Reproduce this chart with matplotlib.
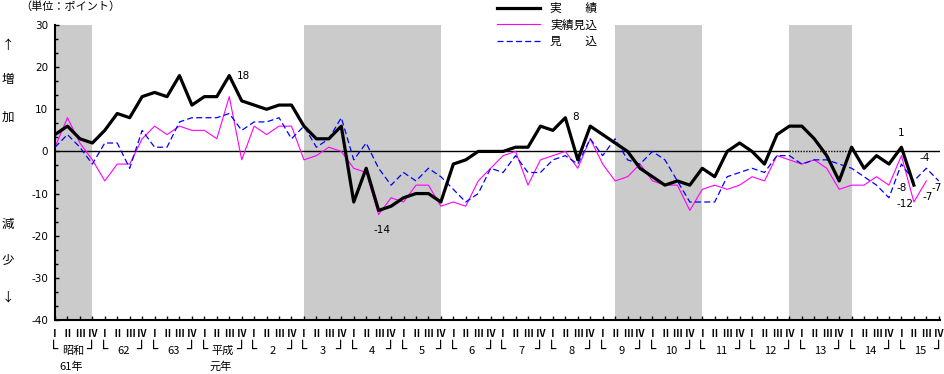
import matplotlib.pyplot as plt
import matplotlib.transforms as mtransforms
from matplotlib.lines import Line2D
import numpy as np

plt.rcParams['font.family'] = ['Noto Sans CJK JP', 'DejaVu Sans']
plt.rcParams['axes.unicode_minus'] = False

# quarterly BSI, 昭和61年Ⅰ期 - 平成15年Ⅳ期
jisseki = [4, 6, 3, 2, 5, 9, 8, 13, 14, 13, 18, 11, 13, 13, 18, 12, 11, 10, 11, 11,
           6, 3, 3, 6, -12, -4, -14, -13, -11, -10, -10, -12, -3, -2, 0, 0, 0, 1, 1, 6,
           5, 8, -2, 6, 4, 2, 0, -4, -6, -8, -7, -8, -4, -6, 0, 2, 0, -3, 4, 6,
           6, 3, -1, -7, 1, -4, -1, -3, 1, -8]
jisseki_mikomi = [1, 8, 2, -2, -7, -3, -3, 3, 6, 4, 6, 5, 5, 3, 13, -2, 6, 4, 6, 6,
                  -2, -1, 1, 0, -4, -5, -15, -11, -12, -8, -8, -13, -12, -13, -7, -4, -1, 0, -8, -2,
                  -1, 0, -4, 3, -3, -7, -6, -3, -7, -8, -8, -14, -9, -8, -9, -8, -6, -7, -1, -2,
                  -3, -2, -4, -9, -8, -8, -6, -8, -1, -12, -7]
mikomi = [1, 4, 1, -3, 2, 2, -4, 5, 1, 1, 7, 8, 8, 8, 9, 5, 7, 7, 8, 3,
          6, 1, 3, 8, -2, 2, -4, -8, -5, -7, -4, -6, -9, -12, -10, -4, -5, -1, -5, -5,
          -2, -1, -3, 3, -1, 3, -2, -3, 0, -2, -7, -12, -12, -12, -6, -5, -4, -5, -1, -1,
          -3, -2, -2, -3, -4, -6, -8, -11, -3, -7, -4, -7]

years = ['昭和', '62', '63', '平成', '2', '3', '4', '5', '6', '7', '8', '9',
         '10', '11', '12', '13', '14', '15']
year_sub = {'昭和': '61年', '平成': '元年'}
quarters = ['Ⅰ', 'Ⅱ', 'Ⅲ', 'Ⅳ']
# recession periods (first quarter, last quarter)
recessions = [(0, 3), (20, 31), (45, 52), (59, 64)]

W, H = 945, 374
fig = plt.figure(figsize=(W / 100, H / 100), dpi=100)
ax = fig.add_axes([55 / W, 1 - 320 / H, (940 - 55) / W, (320 - 25) / H])

for a, b in recessions:
    ax.axvspan(a, b, color='#cbcbcb', lw=0, zorder=0)

# zero line (dotted inside the last shaded band)
ax.hlines(0, 0, recessions[3][0], color='black', lw=1, zorder=1)
ax.hlines(0, recessions[3][0], recessions[3][1], color='black', lw=1, linestyles=(0, (1, 1)), zorder=1)
ax.hlines(0, recessions[3][1], 71.1, color='black', lw=1, zorder=1)

ax.plot(np.arange(len(jisseki_mikomi)), jisseki_mikomi, color='#ff00ff', lw=0.8, zorder=2)
ax.plot(np.arange(len(mikomi)), mikomi, color='#0000ff', lw=0.9, dashes=(4.8, 2.6), zorder=3)
ax.plot(np.arange(len(jisseki)), jisseki, color='black', lw=2.3, zorder=4)

ax.set_xlim(0, 71.1)
ax.set_ylim(-40, 30)
ax.set_yticks(range(-40, 31, 10))
ax.set_yticks(np.arange(-40, 30.1, 10 / 3), minor=True)
ax.set_yticklabels([str(v) for v in range(-40, 31, 10)], family='DejaVu Sans')
ax.set_xticks(np.arange(72))
ax.tick_params(axis='y', which='major', direction='in', length=3, width=1, labelsize=7.5, pad=5)
ax.tick_params(axis='y', which='minor', direction='in', length=2, width=1)
ax.tick_params(axis='x', direction='in', length=3, width=1, labelbottom=False)
for s in ['top', 'right']:
    ax.spines[s].set_visible(False)
for s in ['left', 'bottom']:
    ax.spines[s].set_linewidth(1.5)

# value labels
def note(series, i, dx, dy):
    ax.annotate(str(series[i]), (i, series[i]), xytext=(dx, dy), textcoords='offset pixels',
                ha='center', va='center', fontsize=7.5, family='DejaVu Sans', zorder=5)

note(jisseki, 14, 14, 0)
note(jisseki, 26, 3, -20)
note(jisseki, 41, 10, 1)
note(jisseki, 68, 0, 14)
note(jisseki, 69, -12, -3)
note(jisseki_mikomi, 69, -9, -2)
note(jisseki_mikomi, 70, 1, -16)
note(mikomi, 70, -2, 10)
note(mikomi, 71, -2, -7)

# category axis
tr = mtransforms.blended_transform_factory(ax.transData, fig.transFigure)
for i in range(72):
    ax.text(i, 1 - 334 / H, quarters[i % 4], transform=tr, ha='center', va='center',
            fontsize=7, fontweight='bold', clip_on=False)
for k, y in enumerate(years):
    s = 4 * k
    ax.text(s - 0.1, 1 - 349 / H, '└', transform=tr, ha='center', va='center',
            fontsize=11, family='DejaVu Sans')
    ax.text(s + 2.9, 1 - 349 / H, '┘', transform=tr, ha='center', va='center',
            fontsize=11, family='DejaVu Sans')
    ax.text(s + 1.5, 1 - 351 / H, y, transform=tr, ha='center', va='center', fontsize=8)
    if y in year_sub:
        ax.text(s + 1.3, 1 - 367 / H, year_sub[y], transform=tr, ha='center', va='center', fontsize=8)

fig.text(20 / W, 1 - 7 / H, '（単位：ポイント）', fontsize=8, va='center')
for ch, yy in [('↑', 45), ('増', 80), ('加', 117), ('減', 224), ('少', 260), ('↓', 297)]:
    fig.text(8 / W, 1 - yy / H, ch, fontsize=9, ha='center', va='center')

handles = [Line2D([], [], color='black', lw=2.3),
           Line2D([], [], color='#ff00ff', lw=0.8),
           Line2D([], [], color='#0000ff', lw=0.9, dashes=(4.8, 2.6))]
fig.legend(handles, ['実　　績', '実績見込', '見　　込'], loc='upper left',
           bbox_to_anchor=(497 / W, 1 - 2 / H), frameon=False, fontsize=8.5,
           handlelength=3.6, handletextpad=0.9, labelspacing=0.3, borderpad=0, borderaxespad=0)

fig.savefig('out.png', dpi=100)
